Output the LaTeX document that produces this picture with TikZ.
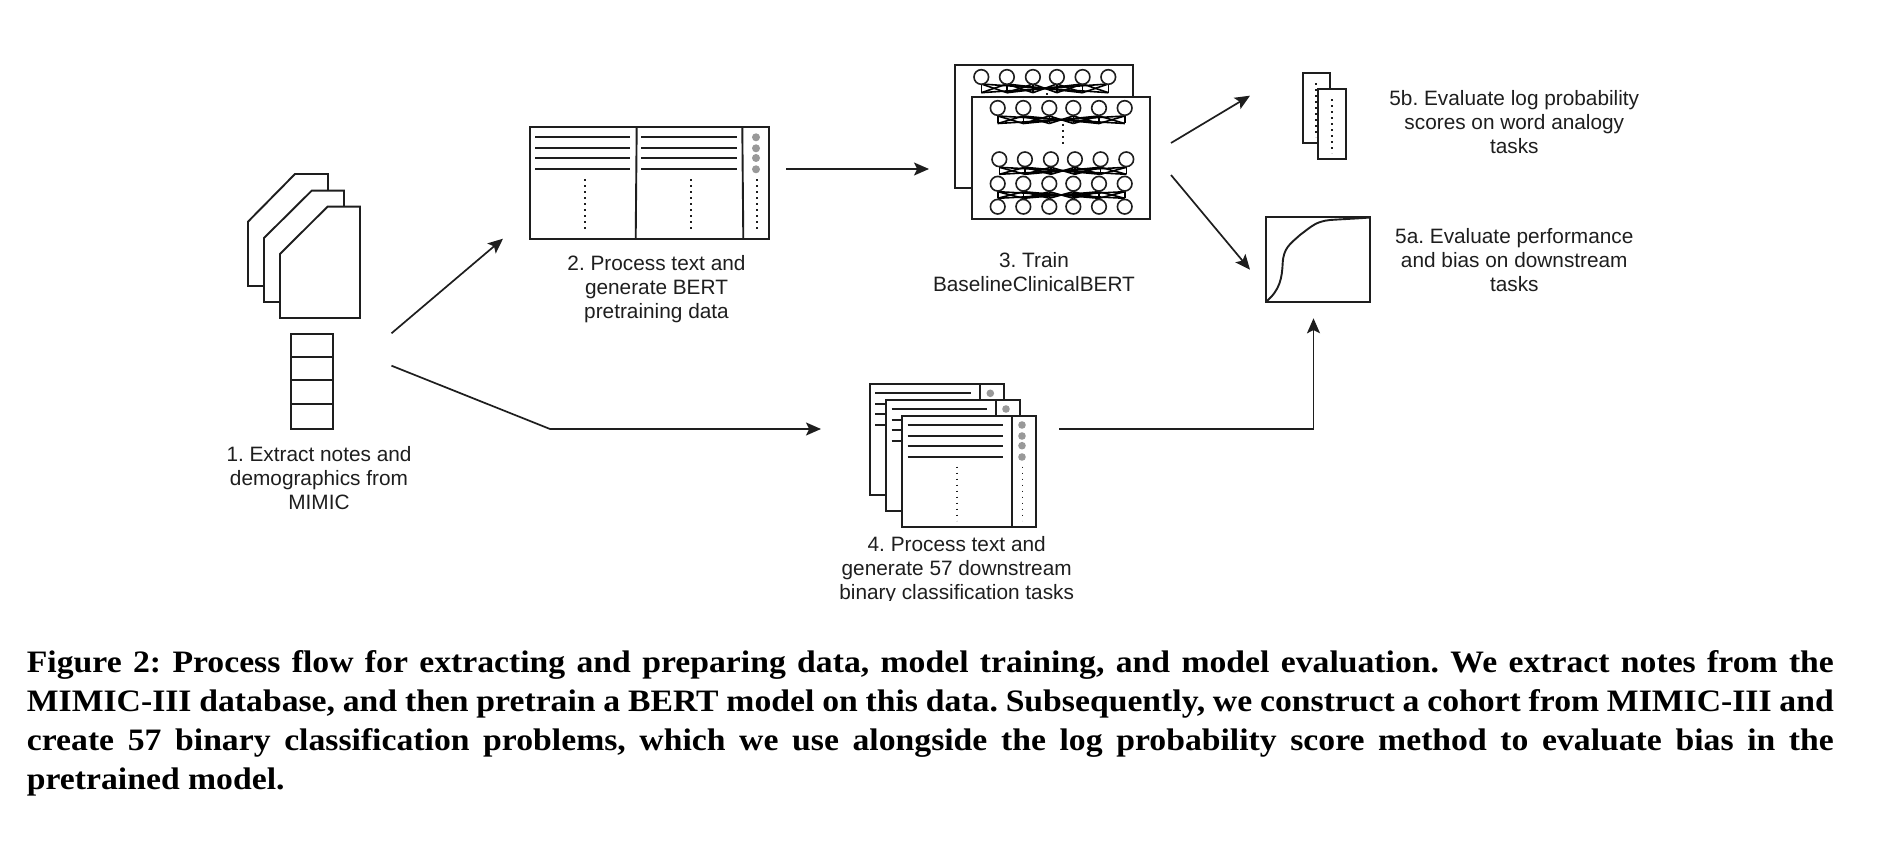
\documentclass[tikz,border=0pt]{standalone}
\usepackage{fontspec}
\setmainfont{Liberation Sans}
\newfontfamily\capfont[FakeStretch=1.08]{Liberation Serif}
\usetikzlibrary{arrows.meta}
\definecolor{ink}{HTML}{1E1E1E}
\definecolor{dotgray}{HTML}{999999}
\newcommand{\netcircles}[2]{%
  \foreach \o in {0,25.6,51.6,75.6,101.3,127}
    \draw[circline,fill=white] ({#1+\o},#2) circle (7.3);}
\newcommand{\netwires}[3]{%
  \foreach \o in {0,25.6,51.6,75.6,101.3,127}
    \draw[netline] ({#1+\o},#2-7) -- ({#1+\o},#3);
  \foreach \a/\b in {0/127,25.6/101.3,51.6/75.6,0/25.6,25.6/51.6,75.6/101.3,101.3/127}{
    \draw[netline] ({#1+\a},#2) -- ({#1+\b},#3);
    \draw[netline] ({#1+\a},#3) -- ({#1+\b},#2);}}
\newcommand{\capline}[2]{\makebox[903.5pt][s]{#2}}
\frenchspacing
\begin{document}
\begin{tikzpicture}[x=0.5pt,y=-0.5pt,
  boxshape/.style={draw=ink,line width=0.95pt,fill=white,line join=miter},
  ruleline/.style={draw=ink,line width=0.95pt},
  netline/.style={draw=black,line width=0.8pt},
  circline/.style={draw=ink,line width=0.8pt},
  dotline/.style={draw=ink,line width=0.85pt,dash pattern=on 0.9pt off 2.1pt},
  graydot/.style={fill=dotgray,draw=none},
  flowline/.style={draw=ink,line width=0.85pt,-{Stealth[length=7.5pt,width=6.5pt,inset=1.6pt]}},
  lbltext/.style={align=center,text=ink,font=\fontsize{10.4}{12}\selectfont,inner sep=0pt},
  captext/.style={anchor=base west,inner sep=0pt,font=\capfont\bfseries\fontsize{15.6}{19.5}\selectfont}]
\useasboundingbox (0,0) rectangle (1892,844);
\fill[white] (0,0) rectangle (1892,844);

% 1: documents
\draw[boxshape] (295,174) -- (328,174) -- (328,286) -- (248,286) -- (248,221.7) -- cycle;
\draw[boxshape] (311.7,190.7) -- (344,190.7) -- (344,302) -- (264,302) -- (264,238) -- cycle;
\draw[boxshape] (327.5,206.7) -- (360,206.7) -- (360,318) -- (280,318) -- (280,254) -- cycle;
% 1: table
\draw[boxshape] (291,333.7) rectangle (332.6,429.3);
\draw[ruleline] (291,357) -- (332.6,357) (291,380) -- (332.6,380) (291,403.7) -- (332.6,403.7);
\node[lbltext] (l1) at (319,478) {1. Extract notes and\\demographics from\\MIMIC};

% 2: data table
\draw[boxshape] (530,127.3) rectangle (768.7,239);
\draw[ruleline] (636.7,127.3) -- (635.7,239) (742.3,127.3) -- (743.3,239);
\foreach \y in {137.3,148.3,158,169.3}{
  \draw[ruleline] (535,\y) -- (630,\y) (641.3,\y) -- (736.7,\y);
  \fill[graydot] (756,\y) circle (4);}
\draw[dotline] (584.7,179.3) -- (584.7,232.7) (691.3,179.3) -- (691.3,232.7) (756.7,179.3) -- (756.7,232.7);
\node[lbltext] (l2) at (656.5,289) {2. Process text and\\generate BERT\\pretraining data};

% 3: networks
\draw[boxshape] (955,65.3) rectangle (1133.3,188);
\netwires{981.3}{84}{92.7}
\netcircles{981.3}{77}
\draw[dotline] (1046.7,93.3) -- (1046.7,96);
\draw[boxshape] (971.7,96.7) rectangle (1150.3,219.3);
\netwires{997.7}{116}{123.5}
\netcircles{997.7}{108}
\draw[dotline] (1062.7,124) -- (1062.7,146.7);
\netwires{999.3}{167.3}{174.3}
\netwires{997.7}{191.7}{198.3}
\netcircles{999.3}{159.3}
\netcircles{997.7}{183.7}
\netcircles{997.7}{206.7}
\node[lbltext] (l3) at (1034,272) {3. Train\\BaselineClinicalBERT};

% 5b
\draw[boxshape] (1302.7,72.7) rectangle (1330.3,143);
\draw[dotline] (1316,83.3) -- (1316,137.3);
\draw[boxshape] (1318.3,88.7) rectangle (1346,158.7);
\draw[dotline] (1332.3,99.3) -- (1332.3,153.3);
\node[lbltext] (l5b) at (1514.3,122.3) {5b. Evaluate log probability\\scores on word analogy\\tasks};

% 5a
\draw[boxshape] (1266.3,216.7) rectangle (1370,301.7);
\draw[ruleline] (1266.3,301.5) .. controls (1280,290) and (1282,278) .. (1282.7,263)
  .. controls (1283.5,248) and (1290,244) .. (1300,235)
  .. controls (1312,226) and (1316,221.5) .. (1330,220)
  .. controls (1345,219) and (1358,218.5) .. (1370,217.5);
\node[lbltext] (l5a) at (1514.3,260.2) {5a. Evaluate performance\\and bias on downstream\\tasks};

% 4: stacked pages
\draw[boxshape] (869.7,383.7) rectangle (1004,495.3);
\draw[ruleline] (979.7,383.7) -- (979.7,420);
\draw[ruleline] (875.3,393.3) -- (971,393.3) (875.3,404.3) -- (890,404.3) (875.3,413.7) -- (890,413.7) (875.3,425) -- (890,425);
\fill[graydot] (990.3,393.3) circle (3.8);
\draw[boxshape] (885.7,399.7) rectangle (1020,511.3);
\draw[ruleline] (995.7,399.7) -- (995.7,430);
\draw[ruleline] (891.7,409) -- (987,409) (891.7,420) -- (905,420) (891.7,430) -- (905,430) (891.7,441) -- (905,441);
\fill[graydot] (1006,409) circle (3.8);
\draw[boxshape] (901.7,415.7) rectangle (1035.7,527);
\draw[ruleline] (1011.7,415.7) -- (1011.7,527);
\foreach \y in {425,436,445.7,457}{
  \draw[ruleline] (907.7,\y) -- (1003,\y);
  \fill[graydot] (1022,\y) circle (3.8);}
\draw[dotline] (957,466.7) -- (957,520.7) (1022.5,466.7) -- (1022.5,520.7);
\begin{scope}
\clip (840,530) rectangle (1080,601);
\node[lbltext] (l4) at (956.7,570) {4. Process text and\\generate 57 downstream\\binary classification tasks};
\end{scope}

% connectors
\coordinate (e1a) at (391.5,333.3);
\coordinate (t1a) at (503,238.7);
\coordinate (e1b) at (391.5,365.7);
\coordinate (k1b) at (550,429);
\coordinate (t1b) at (821,429);
\coordinate (e2) at (786,169);
\coordinate (t2) at (929,169);
\coordinate (e3a) at (1171,143);
\coordinate (t3a) at (1250,95.7);
\coordinate (e3b) at (1171,175);
\coordinate (t3b) at (1250,269.7);
\coordinate (e4) at (1059.3,429);
\coordinate (k4) at (1313.5,429);
\coordinate (t4) at (1313.5,318.3);
\draw[flowline] (e1a) -- (t1a);
\draw[flowline] (e1b) -- (k1b) -- (t1b);
\draw[flowline] (e2) -- (t2);
\draw[flowline] (e3a) -- (t3a);
\draw[flowline] (e3b) -- (t3b);
\draw[flowline] (e4) -- (k4) -- (t4);

% caption
\node[captext] (c1) at (26.5,672.7) {\capline{1}{Figure 2: Process flow for extracting and preparing data, model training, and model evaluation. We extract notes from the}};
\node[captext] (c2) at (26.5,711.7) {\capline{2}{MIMIC-III database, and then pretrain a BERT model on this data. Subsequently, we construct a cohort from MIMIC-III and}};
\node[captext] (c3) at (26.5,750.7) {\capline{3}{create 57 binary classification problems, which we use alongside the log probability score method to evaluate bias in the}};
\node[captext] (c4) at (26.5,790) {pretrained model.};
\end{tikzpicture}
\end{document}
